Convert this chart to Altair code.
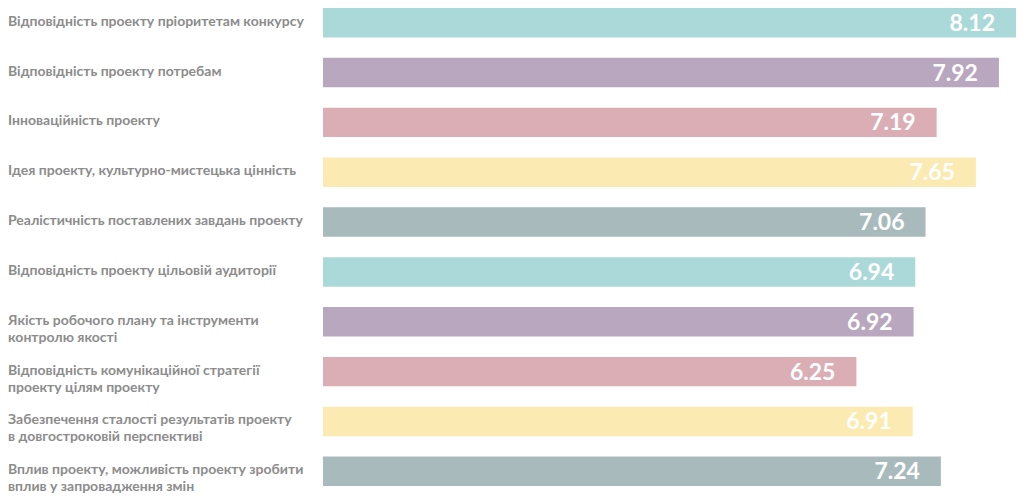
import altair as alt
import pandas as pd

categories = [
    "Відповідність проекту пріоритетам конкурсу",
    "Відповідність проекту потребам",
    "Інноваційність проекту",
    "Ідея проекту, культурно-мистецька цінність",
    "Реалістичність поставлених завдань проекту",
    "Відповідність проекту цільовій аудиторії",
    "Якість робочого плану та інструменти\nконтролю якості",
    "Відповідність комунікаційної стратегії\nпроекту цілям проекту",
    "Забезпечення сталості результатів проекту\nв довгостроковій перспективі",
    "Вплив проекту, можливість проекту зробити\nвплив у запровадження змін",
]
scores = [8.12, 7.92, 7.19, 7.65, 7.06, 6.94, 6.92, 6.25, 6.91, 7.24]
groups = ["a", "b", "c", "d", "e", "a", "b", "c", "d", "e"]
palette = ["#abd9d9", "#b9a6bf", "#dbadb4", "#fbebb3", "#a9babd"]

df = pd.DataFrame({"cat": categories, "score": scores, "grp": groups,
                   "label": [f"{v:.2f}" for v in scores]})

FONT = "Lato, sans-serif"

y = alt.Y("cat:N", sort=categories, axis=None,
          scale=alt.Scale(paddingInner=0.41, paddingOuter=0))
x = alt.X("score:Q", axis=None, scale=alt.Scale(domain=[0, 8.12], nice=False, zero=True))

bars = alt.Chart(df).mark_bar(cornerRadius=0).encode(
    x=x, y=y,
    color=alt.Color("grp:N", scale=alt.Scale(domain=["a", "b", "c", "d", "e"], range=palette), legend=None),
)

values = alt.Chart(df).mark_text(
    align="right", baseline="middle", dx=-21, dy=1, font=FONT, fontWeight="bold",
    fontSize=23, color="white"
).encode(x=x, y=y, text="label:N")

names = alt.Chart(df).mark_text(
    align="left", baseline="middle", font=FONT, fontWeight="bold", fontSize=14,
    color="#8c8c8c", lineBreak="\n", lineHeight=17, dy=-1
).encode(x=alt.value(-315), y=y, text="cat:N")

chart = alt.layer(bars, values, names).properties(
    width=693, height=478,
    autosize=alt.AutoSizeParams(type="none"),
    padding={"left": 315, "top": 0, "right": 0, "bottom": 7},
).configure_view(stroke=None)

chart.save("out.html", embed_options={"renderer": "svg", "actions": False})
